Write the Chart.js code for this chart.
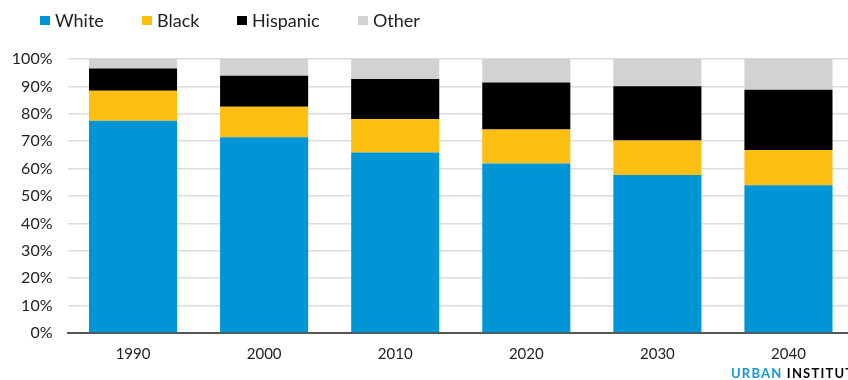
<!DOCTYPE html>
<html>
<head>
<meta charset="utf-8">
<script src="https://cdn.jsdelivr.net/npm/chart.js@4"></script>
<style>
  html, body { margin: 0; padding: 0; background: #fff; overflow: hidden; width: 848px; height: 380px; }
  #wrap { position: absolute; left: 0; top: 0; width: 854px; height: 380px; }
  .leg { position: absolute; top: 9px; height: 22px; font: 18px Lato, sans-serif; color: #222; line-height: 22px; white-space: nowrap; }
  .leg i { position: absolute; left: 0; top: 7px; width: 10px; height: 9px; }
  .leg span { position: absolute; left: 15px; top: 0; }
  #brand { position: absolute; left: 731px; top: 365px; font: bold 13px Lato, sans-serif; letter-spacing: 1.2px; white-space: nowrap; line-height: 16px; }
</style>
</head>
<body>
<div id="wrap"><canvas id="c" width="854" height="380"></canvas></div>
<div id="legend"></div>
<div id="brand"><span style="color:#1696d2">URBAN</span> <span style="color:#0a0a0a">INSTITUTE</span></div>
<script>
const categories = ["1990", "2000", "2010", "2020", "2030", "2040"];
const white    = [77.5, 71.4, 65.9, 61.9, 57.7, 53.9];
const black    = [10.9, 11.2, 12.2, 12.4, 12.6, 12.9];
const hispanic = [8.1, 11.3, 14.6, 17.1, 19.8, 22.0];
const other    = [3.5, 6.1, 7.3, 8.6, 9.9, 11.2];
const yTicks   = [0, 10, 20, 30, 40, 50, 60, 70, 80, 90, 100];

const seriesNames = ["White", "Black", "Hispanic", "Other"];
const seriesColors = ["#0096d6", "#fdbf11", "#000000", "#d2d2d2"];
const legendX = [40, 142, 237, 358];

const legend = document.getElementById("legend");
seriesNames.forEach((n, i) => {
  const d = document.createElement("div");
  d.className = "leg";
  d.style.left = legendX[i] + "px";
  d.innerHTML = '<i style="background:' + seriesColors[i] + '"></i><span>' + n + '</span>';
  legend.appendChild(d);
});

const seriesData = [white, black, hispanic, other];
new Chart(document.getElementById("c"), {
  type: "bar",
  data: {
    labels: categories,
    datasets: seriesNames.map((n, i) => ({
      label: n,
      data: seriesData[i],
      backgroundColor: seriesColors[i],
      borderWidth: 0,
      categoryPercentage: 1,
      barPercentage: 0.672
    }))
  },
  options: {
    responsive: false,
    animation: false,
    layout: { padding: { left: 0, right: 0, top: 59, bottom: 0 } },
    plugins: { legend: { display: false }, tooltip: { enabled: false } },
    scales: {
      x: {
        stacked: true,
        z: 1,
        grid: { display: false, drawTicks: false },
        border: { display: true, color: "#555555", width: 2 },
        ticks: { padding: 12, color: "#222", font: { family: "Lato", size: 15 } },
        afterFit: s => { s.height = 47; }
      },
      y: {
        stacked: true,
        min: 0, max: 100,
        afterBuildTicks: s => { s.ticks = yTicks.map(v => ({ value: v })); },
        grid: { color: "#dcdcdc", lineWidth: 1.5, drawTicks: false },
        border: { display: false },
        ticks: { padding: 15, color: "#222", font: { family: "Lato", size: 16 }, callback: v => v + "%" },
        afterFit: s => { s.width = 67.5; }
      }
    }
  }
});
</script>
</body>
</html>
